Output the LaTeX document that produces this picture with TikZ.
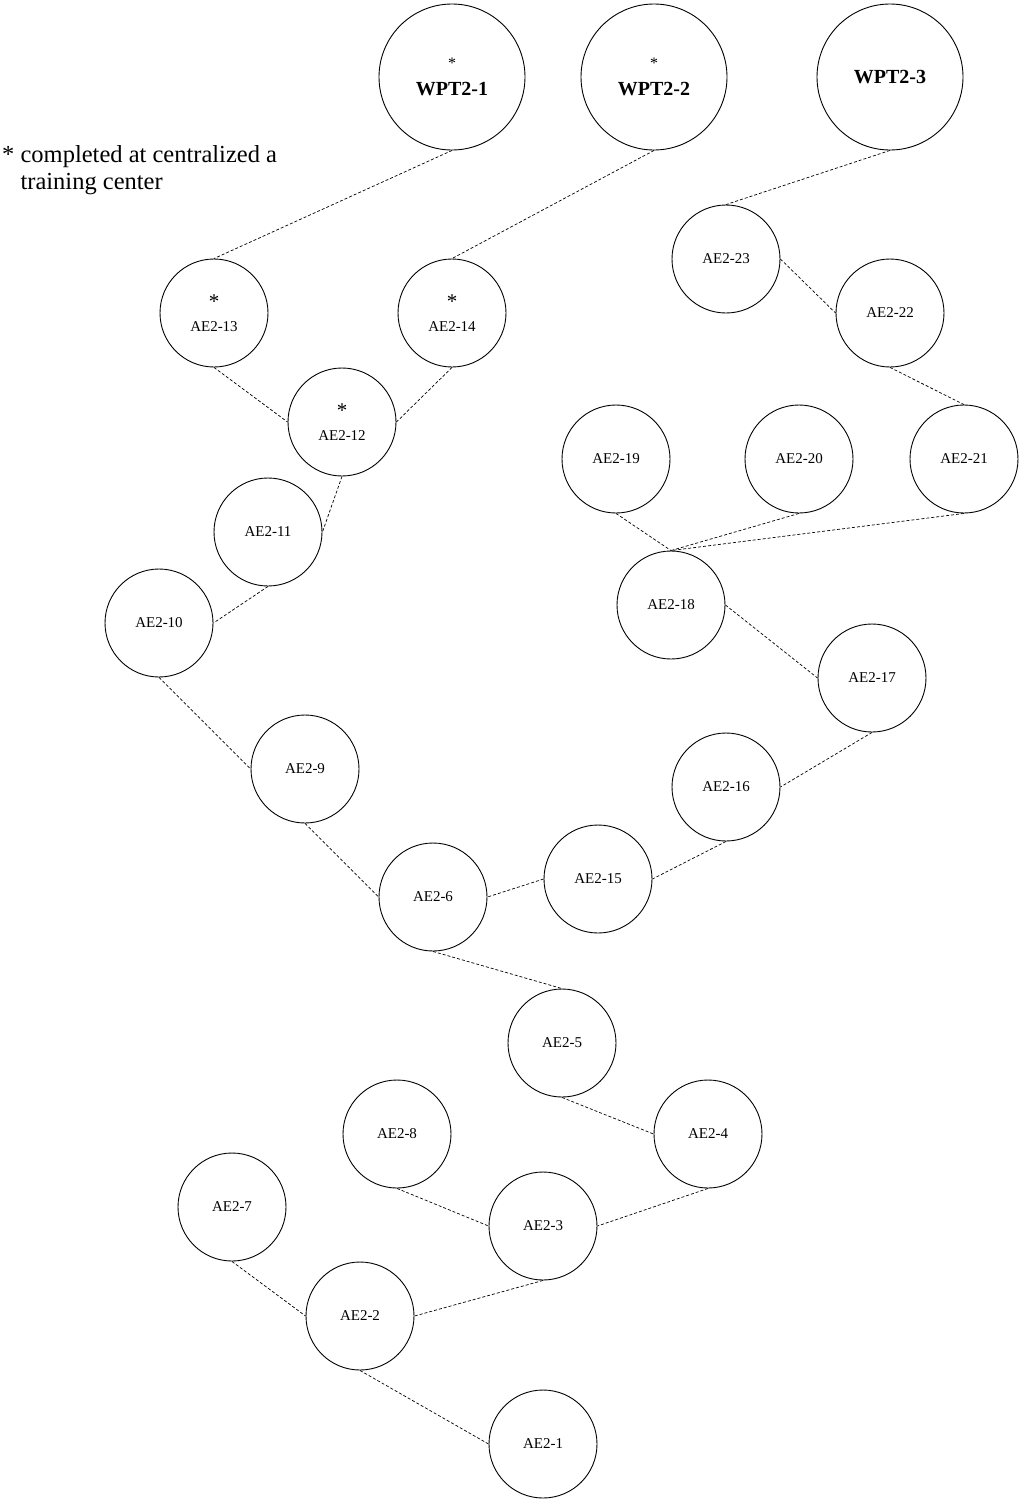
\documentclass[tikz,border=0pt]{standalone}
\usepackage{fontspec}
\setmainfont{Liberation Serif}
\usepackage{tikz}
\usetikzlibrary{shapes}
\tikzset{
	treenode/.style = {
		align=center,
		inner sep=0pt,
		text centered,
		font=\fontsize{15}{21}\selectfont
	},
	node_ae/.style = {
		treenode,
		circle,
		draw=black,
		line width=0.9pt,
		minimum size=108pt
	},
	node_wpt/.style = {
		node_ae,
		font=\fontsize{20}{24}\selectfont\bfseries,
		minimum size=146pt
	},
	node_note/.style = {
		align=left,
		inner sep=0pt,
		anchor=north west,
		font=\fontsize{24.5}{27}\selectfont
	},
	link/.style = {
		draw=black,
		line width=0.7pt,
		dash pattern=on 3pt off 2pt
	},
}
\newcommand{\smallstar}{{\fontsize{16}{16}\selectfont\mdseries *}}
\newcommand{\bigstar}{{\fontsize{21}{21}\selectfont *}}

\begin{document}
\begin{tikzpicture}[x=1pt,y=-1pt]
\useasboundingbox (0,0) rectangle (1019,1500);
% top row
\node [node_wpt] (wpt1) at (452,77) {\smallstar\\[3pt]WPT2-1};
\node [node_wpt] (wpt2) at (654,77) {\smallstar\\[3pt]WPT2-2};
\node [node_wpt] (wpt3) at (890,77) {WPT2-3};
\node [node_note] (note) at (2,145) {* completed at centralized a\\\phantom{* }training center};
% left branch
\node [node_ae] (ae13) at (214,313) {\bigstar\\[2pt]AE2-13};
\node [node_ae] (ae14) at (452,313) {\bigstar\\[2pt]AE2-14};
\node [node_ae] (ae12) at (342,422) {\bigstar\\[2pt]AE2-12};
\node [node_ae] (ae11) at (268,532) {AE2-11};
\node [node_ae] (ae10) at (159,623) {AE2-10};
\node [node_ae] (ae9) at (305,769) {AE2-9};
\node [node_ae] (ae6) at (433,897) {AE2-6};
% right branch
\node [node_ae] (ae23) at (726,259) {AE2-23};
\node [node_ae] (ae22) at (890,313) {AE2-22};
\node [node_ae] (ae19) at (616,459) {AE2-19};
\node [node_ae] (ae20) at (799,459) {AE2-20};
\node [node_ae] (ae21) at (964,459) {AE2-21};
\node [node_ae] (ae18) at (671,605) {AE2-18};
\node [node_ae] (ae17) at (872,678) {AE2-17};
\node [node_ae] (ae16) at (726,787) {AE2-16};
\node [node_ae] (ae15) at (598,879) {AE2-15};
% bottom
\node [node_ae] (ae5) at (562,1043) {AE2-5};
\node [node_ae] (ae4) at (708,1134) {AE2-4};
\node [node_ae] (ae8) at (397,1134) {AE2-8};
\node [node_ae] (ae3) at (543,1226) {AE2-3};
\node [node_ae] (ae7) at (232,1207) {AE2-7};
\node [node_ae] (ae2) at (360,1316) {AE2-2};
\node [node_ae] (ae1) at (543,1444) {AE2-1};

\draw [link] (wpt1.south) -- (ae13.north);
\draw [link] (wpt2.south) -- (ae14.north);
\draw [link] (ae13.south) -- (ae12.west);
\draw [link] (ae14.south) -- (ae12.east);
\draw [link] (ae12.south) -- (ae11.east);
\draw [link] (ae11.south) -- (ae10.east);
\draw [link] (ae10.south) -- (ae9.west);
\draw [link] (ae9.south) -- (ae6.west);
\draw [link] (wpt3.south) -- (ae23.north);
\draw [link] (ae23.east) -- (ae22.west);
\draw [link] (ae22.south) -- (ae21.north);
\draw [link] (ae19.south) -- (ae18.north);
\draw [link] (ae20.south) -- (ae18.north);
\draw [link] (ae21.south) -- (ae18.north);
\draw [link] (ae18.east) -- (ae17.west);
\draw [link] (ae17.south) -- (ae16.east);
\draw [link] (ae16.south) -- (ae15.east);
\draw [link] (ae15.west) -- (ae6.east);
\draw [link] (ae6.south) -- (ae5.north);
\draw [link] (ae5.south) -- (ae4.west);
\draw [link] (ae4.south) -- (ae3.east);
\draw [link] (ae8.south) -- (ae3.west);
\draw [link] (ae3.south) -- (ae2.east);
\draw [link] (ae7.south) -- (ae2.west);
\draw [link] (ae2.south) -- (ae1.west);
\end{tikzpicture}
\end{document}
